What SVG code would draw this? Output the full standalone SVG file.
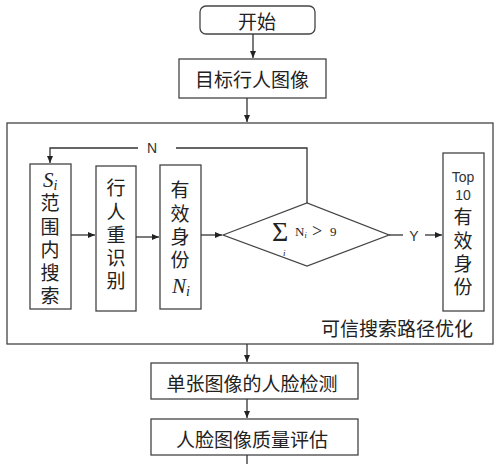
<svg xmlns="http://www.w3.org/2000/svg" width="500" height="464" viewBox="0 0 500 464">
<defs>
<marker id="ah" markerWidth="8" markerHeight="8" refX="7" refY="4" orient="auto" markerUnits="userSpaceOnUse">
<path d="M0,1 L7,4 L0,7 Z" fill="#222"/>
</marker>
<style>
.box{fill:#fff;stroke:#444;stroke-width:1.3}
.ln{fill:none;stroke:#333;stroke-width:1.3}
.t{font-family:"Noto Sans CJK SC","Noto Sans",sans-serif;font-size:19px;fill:#222;text-anchor:middle;dominant-baseline:central}
.v{font-family:"Noto Sans CJK SC","Noto Sans",sans-serif;font-size:19px;fill:#222;writing-mode:vertical-rl;letter-spacing:4.3px}
.m{font-family:"Liberation Serif",serif;fill:#222}
.s{font-family:"Liberation Sans",sans-serif;font-size:14px;fill:#333;text-anchor:middle;dominant-baseline:central}
</style>
</defs>
<rect width="500" height="464" fill="#fff"/>
<g id="outer">
<rect class="box" x="7" y="123" width="486" height="221" fill="none"/>
<text class="t" x="397" y="327">可信搜索路径优化</text>
</g>
<g id="start">
<rect class="box" x="200" y="6" width="115" height="28" rx="6"/>
<text class="t" x="257" y="20">开始</text>
</g>
<g id="target">
<rect class="box" x="179" y="59" width="147" height="39"/>
<text class="t" x="252" y="78">目标行人图像</text>
</g>
<g id="search">
<rect class="box" x="30" y="164" width="41" height="145"/>
<text class="m" x="43" y="187" font-size="21" font-style="italic">S<tspan font-size="14" dy="3">i</tspan></text>
<text class="v" x="50" y="193.5">范围内搜索</text>
</g>
<g id="reid">
<rect class="box" x="96" y="166" width="40" height="145"/>
<text class="v" x="116" y="178.5">行人重识别</text>
</g>
<g id="valid">
<rect class="box" x="160" y="165" width="41" height="144"/>
<text class="v" x="180" y="180.5">有效身份</text>
<text class="m" x="172" y="293" font-size="21" font-style="italic">N<tspan font-size="14" dy="3">i</tspan></text>
</g>
<g id="decision">
<path class="box" d="M223,235 L307,203 L389,235 L307,266 Z"/>
<text class="m" x="272" y="241" font-size="28">Σ</text>
<text class="m" x="283" y="256" font-size="9" font-style="italic">i</text>
<text class="m" x="295" y="236" font-size="13">N<tspan font-size="8" dy="2" font-style="italic">i</tspan></text>
<text class="m" x="312" y="237" font-size="18">&gt;</text>
<text class="m" x="330" y="236" font-size="13">9</text>
</g>
<g id="top10">
<rect class="box" x="443" y="153" width="41" height="158"/>
<text class="s" x="463" y="177">Top</text>
<text class="s" x="463" y="195">10</text>
<text class="v" x="463" y="207.5">有效身份</text>
</g>
<g id="face">
<rect class="box" x="151" y="363" width="207" height="36"/>
<text class="t" x="252" y="382">单张图像的人脸检测</text>
</g>
<g id="quality">
<rect class="box" x="151" y="419" width="207" height="36"/>
<text class="t" x="252" y="438">人脸图像质量评估</text>
</g>
<g id="connectors">
<line class="ln" x1="253" y1="34" x2="253" y2="58" marker-end="url(#ah)"/>
<line class="ln" x1="247" y1="98" x2="247" y2="122" marker-end="url(#ah)"/>
<line class="ln" x1="71" y1="235" x2="95" y2="235" marker-end="url(#ah)"/>
<line class="ln" x1="136" y1="237" x2="159" y2="237" marker-end="url(#ah)"/>
<line class="ln" x1="201" y1="235" x2="222" y2="235" marker-end="url(#ah)"/>
<path class="ln" d="M307,203 L307,148 L176,148"/>
<path class="ln" d="M138,148 L50,148 L50,163" marker-end="url(#ah)"/>
<text class="s" x="152" y="148">N</text>
<line class="ln" x1="389" y1="235" x2="403" y2="235"/>
<text class="s" x="414" y="236">Y</text>
<line class="ln" x1="425" y1="235" x2="442" y2="235" marker-end="url(#ah)"/>
<line class="ln" x1="247" y1="344" x2="247" y2="362" marker-end="url(#ah)"/>
<line class="ln" x1="247" y1="399" x2="247" y2="418" marker-end="url(#ah)"/>
<line class="ln" x1="247" y1="455" x2="247" y2="464"/>
</g>
</svg>
